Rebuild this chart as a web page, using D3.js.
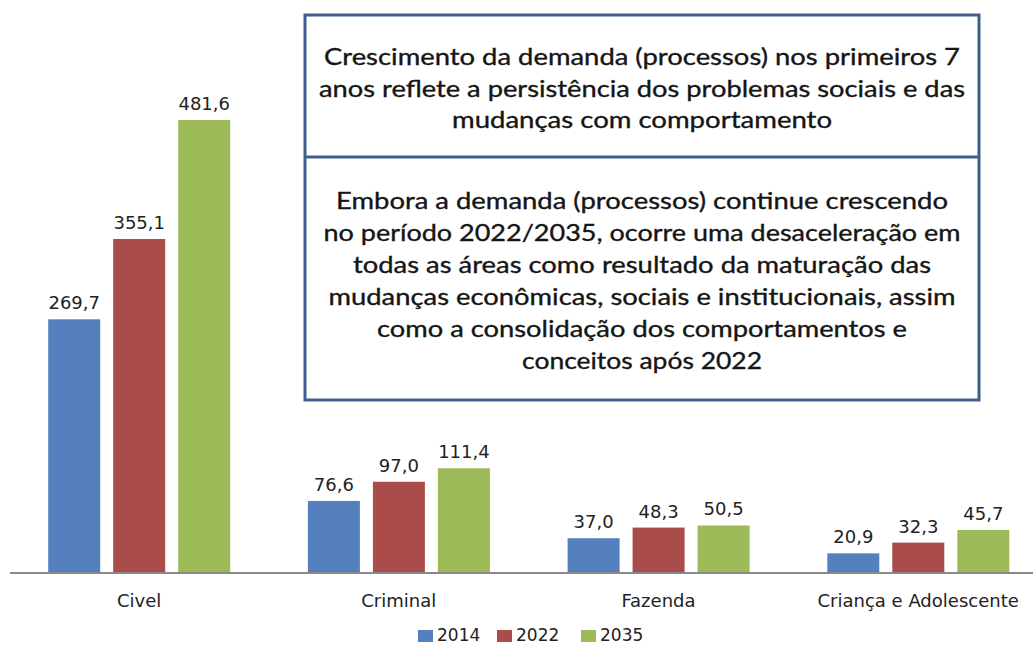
<!DOCTYPE html>
<html>
<head>
<meta charset="utf-8">
<script src="https://cdn.jsdelivr.net/npm/d3@7"></script>
<style>
  html, body { margin: 0; padding: 0; background: #fff; }
  svg { display: block; }
</style>
</head>
<body>
<svg id="chart" width="1033" height="646"></svg>
<script>
const categories = ["Civel", "Criminal", "Fazenda", "Criança e Adolescente"];
const series = ["2014", "2022", "2035"];
const values2014 = [269.7, 76.6, 37.0, 20.9];
const values2022 = [355.1, 97.0, 48.3, 32.3];
const values2035 = [481.6, 111.4, 50.5, 45.7];
const seriesValues = [values2014, values2022, values2035];
const colors = ["#5580BE", "#AA4D4A", "#9CBA57"];
const box1Lines = [
  "Crescimento da demanda (processos) nos primeiros 7",
  "anos reflete a persistência dos problemas sociais e das",
  "mudanças com comportamento"
];
const box2Lines = [
  "Embora a demanda (processos) continue crescendo",
  "no período 2022/2035, ocorre uma desaceleração em",
  "todas as áreas como resultado da maturação das",
  "mudanças econômicas, sociais e institucionais, assim",
  "como a consolidação dos comportamentos e",
  "conceitos após 2022"
];
const box1Widths = [636, 646, 380];
const box2Widths = [612, 637, 578, 627, 530, 240];

const svg = d3.select("#chart");
const baseY = 573;

const x0 = d3.scaleBand().domain(categories).range([9.2, 1048]).padding(0);
const x1 = d3.scaleBand().domain(series).range([39, 221]).paddingInner(0.2).paddingOuter(0);
const y = d3.scaleLinear().domain([0, 500]).range([baseY, baseY - 470.3]);

const fmt = v => d3.format(".1f")(v).replace(".", ",");

// bars
const groups = svg.append("g").selectAll("g")
  .data(categories)
  .join("g")
  .attr("transform", d => `translate(${x0(d)},0)`);

groups.each(function(cat, ci) {
  const g = d3.select(this);
  const data = series.map((s, si) => ({ s, si, v: seriesValues[si][ci] }));
  g.selectAll("rect").data(data).join("rect")
    .attr("x", d => x1(d.s))
    .attr("y", d => y(d.v))
    .attr("width", x1.bandwidth())
    .attr("height", d => baseY - y(d.v))
    .attr("fill", d => colors[d.si]);
  g.selectAll("text.val").data(data).join("text")
    .attr("class", "val")
    .attr("x", d => x1(d.s) + x1.bandwidth() / 2)
    .attr("y", d => y(d.v) - 10)
    .attr("text-anchor", "middle")
    .attr("font-family", "DejaVu Sans")
    .attr("font-size", 18)
    .attr("fill", "#222")
    .text(d => fmt(d.v));
});

// axis
const axis = svg.append("g")
  .attr("transform", `translate(0,${baseY})`)
  .call(d3.axisBottom(x0).tickSize(0).tickPadding(0));
axis.select(".domain").attr("stroke", "#8a8a8a").attr("stroke-width", 2)
  .attr("d", `M10,0H1033`);
axis.selectAll(".tick text")
  .attr("font-family", "DejaVu Sans")
  .attr("font-size", 18)
  .attr("fill", "#222")
  .attr("dy", null)
  .attr("y", 34);

// legend
const legendX = [418, 497, 581];
const legend = svg.append("g");
series.forEach((s, i) => {
  legend.append("rect")
    .attr("x", legendX[i]).attr("y", 630)
    .attr("width", 15).attr("height", 12)
    .attr("fill", colors[i]);
  legend.append("text")
    .attr("x", legendX[i] + 19).attr("y", 641)
    .attr("font-family", "DejaVu Sans")
    .attr("font-size", 17)
    .attr("fill", "#222")
    .text(s);
});

// text box
const bx = 305, by = 15, bw = 674, bh = 385, divY = 157;
const box = svg.append("g");
box.append("rect")
  .attr("x", bx).attr("y", by).attr("width", bw).attr("height", bh)
  .attr("fill", "#fff").attr("stroke", "#3F5E8C").attr("stroke-width", 3);
box.append("line")
  .attr("x1", bx).attr("x2", bx + bw).attr("y1", divY).attr("y2", divY)
  .attr("stroke", "#3F5E8C").attr("stroke-width", 3);

const cx = bx + bw / 2;
const fontSize = 23.5;
function addLines(lines, widths, baselines) {
  lines.forEach((t, i) => {
    box.append("text")
      .attr("x", cx).attr("y", baselines[i])
      .attr("text-anchor", "middle")
      .attr("font-family", "Lato")
      .attr("font-size", fontSize)
      .attr("fill", "#151515")
      .attr("stroke", "#151515")
      .attr("stroke-width", 0.35)
      .attr("textLength", widths[i])
      .attr("lengthAdjust", "spacingAndGlyphs")
      .text(t);
  });
}
addLines(box1Lines, box1Widths, [65, 97, 128]);
addLines(box2Lines, box2Widths, [209, 241, 273, 305, 337, 369]);
</script>
</body>
</html>
